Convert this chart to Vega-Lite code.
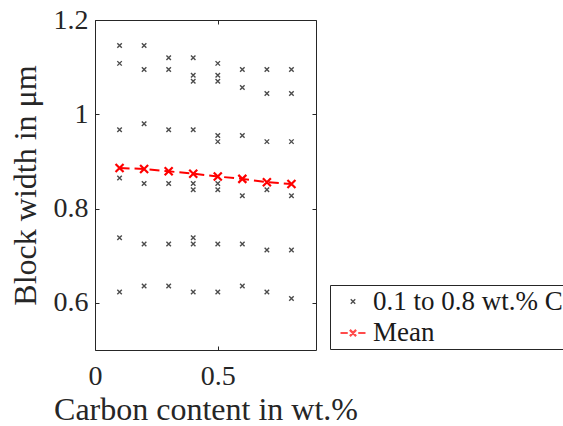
{
  "$schema": "https://vega.github.io/schema/vega-lite/v6.json",
  "width": 221,
  "height": 330,
  "autosize": {"type": "none"},
  "padding": {"left": 95, "top": 20, "right": 247, "bottom": 76},
  "background": "white",
  "config": {
    "view": {"stroke": "#262626", "strokeWidth": 1},
    "font": "Liberation Serif",
    "axis": {
      "grid": false,
      "domain": false,
      "ticks": true,
      "tickColor": "#262626",
      "tickSize": -4,
      "labelFlush": false,
      "labelFont": "Liberation Serif",
      "labelFontSize": 28,
      "labelColor": "#262626",
      "titleFont": "Liberation Serif",
      "titleFontSize": 32,
      "titleFontWeight": "normal",
      "titleColor": "#262626"
    },
    "legend": {
      "orient": "none",
      "legendX": 235,
      "legendY": 265,
      "strokeColor": "#262626",
      "fillColor": "white",
      "padding": 3,
      "symbolOffset": 6,
      "symbolSize": 625,
      "labelOffset": 6,
      "labelFont": "Liberation Serif",
      "labelFontSize": 27,
      "labelColor": "#1a1a1a",
      "labelLimit": 600,
      "rowPadding": 4
    }
  },
  "datasets": {
    "pts": [
      {"c": 0.1, "w": 1.146, "series": "0.1 to 0.8 wt.% C"},
      {"c": 0.1, "w": 1.108, "series": "0.1 to 0.8 wt.% C"},
      {"c": 0.1, "w": 0.967, "series": "0.1 to 0.8 wt.% C"},
      {"c": 0.1, "w": 0.865, "series": "0.1 to 0.8 wt.% C"},
      {"c": 0.1, "w": 0.738, "series": "0.1 to 0.8 wt.% C"},
      {"c": 0.1, "w": 0.623, "series": "0.1 to 0.8 wt.% C"},
      {"c": 0.2, "w": 1.146, "series": "0.1 to 0.8 wt.% C"},
      {"c": 0.2, "w": 1.095, "series": "0.1 to 0.8 wt.% C"},
      {"c": 0.2, "w": 0.98, "series": "0.1 to 0.8 wt.% C"},
      {"c": 0.2, "w": 0.853, "series": "0.1 to 0.8 wt.% C"},
      {"c": 0.2, "w": 0.725, "series": "0.1 to 0.8 wt.% C"},
      {"c": 0.2, "w": 0.636, "series": "0.1 to 0.8 wt.% C"},
      {"c": 0.3, "w": 1.12, "series": "0.1 to 0.8 wt.% C"},
      {"c": 0.3, "w": 1.095, "series": "0.1 to 0.8 wt.% C"},
      {"c": 0.3, "w": 0.967, "series": "0.1 to 0.8 wt.% C"},
      {"c": 0.3, "w": 0.853, "series": "0.1 to 0.8 wt.% C"},
      {"c": 0.3, "w": 0.725, "series": "0.1 to 0.8 wt.% C"},
      {"c": 0.3, "w": 0.636, "series": "0.1 to 0.8 wt.% C"},
      {"c": 0.4, "w": 1.12, "series": "0.1 to 0.8 wt.% C"},
      {"c": 0.4, "w": 1.083, "series": "0.1 to 0.8 wt.% C"},
      {"c": 0.4, "w": 1.07, "series": "0.1 to 0.8 wt.% C"},
      {"c": 0.4, "w": 0.967, "series": "0.1 to 0.8 wt.% C"},
      {"c": 0.4, "w": 0.853, "series": "0.1 to 0.8 wt.% C"},
      {"c": 0.4, "w": 0.84, "series": "0.1 to 0.8 wt.% C"},
      {"c": 0.4, "w": 0.738, "series": "0.1 to 0.8 wt.% C"},
      {"c": 0.4, "w": 0.725, "series": "0.1 to 0.8 wt.% C"},
      {"c": 0.4, "w": 0.623, "series": "0.1 to 0.8 wt.% C"},
      {"c": 0.5, "w": 1.108, "series": "0.1 to 0.8 wt.% C"},
      {"c": 0.5, "w": 1.083, "series": "0.1 to 0.8 wt.% C"},
      {"c": 0.5, "w": 1.07, "series": "0.1 to 0.8 wt.% C"},
      {"c": 0.5, "w": 0.955, "series": "0.1 to 0.8 wt.% C"},
      {"c": 0.5, "w": 0.942, "series": "0.1 to 0.8 wt.% C"},
      {"c": 0.5, "w": 0.853, "series": "0.1 to 0.8 wt.% C"},
      {"c": 0.5, "w": 0.84, "series": "0.1 to 0.8 wt.% C"},
      {"c": 0.5, "w": 0.725, "series": "0.1 to 0.8 wt.% C"},
      {"c": 0.5, "w": 0.623, "series": "0.1 to 0.8 wt.% C"},
      {"c": 0.6, "w": 1.095, "series": "0.1 to 0.8 wt.% C"},
      {"c": 0.6, "w": 1.057, "series": "0.1 to 0.8 wt.% C"},
      {"c": 0.6, "w": 0.955, "series": "0.1 to 0.8 wt.% C"},
      {"c": 0.6, "w": 0.827, "series": "0.1 to 0.8 wt.% C"},
      {"c": 0.6, "w": 0.725, "series": "0.1 to 0.8 wt.% C"},
      {"c": 0.6, "w": 0.636, "series": "0.1 to 0.8 wt.% C"},
      {"c": 0.7, "w": 1.095, "series": "0.1 to 0.8 wt.% C"},
      {"c": 0.7, "w": 1.044, "series": "0.1 to 0.8 wt.% C"},
      {"c": 0.7, "w": 0.942, "series": "0.1 to 0.8 wt.% C"},
      {"c": 0.7, "w": 0.84, "series": "0.1 to 0.8 wt.% C"},
      {"c": 0.7, "w": 0.712, "series": "0.1 to 0.8 wt.% C"},
      {"c": 0.7, "w": 0.623, "series": "0.1 to 0.8 wt.% C"},
      {"c": 0.8, "w": 1.095, "series": "0.1 to 0.8 wt.% C"},
      {"c": 0.8, "w": 1.044, "series": "0.1 to 0.8 wt.% C"},
      {"c": 0.8, "w": 0.942, "series": "0.1 to 0.8 wt.% C"},
      {"c": 0.8, "w": 0.827, "series": "0.1 to 0.8 wt.% C"},
      {"c": 0.8, "w": 0.712, "series": "0.1 to 0.8 wt.% C"},
      {"c": 0.8, "w": 0.609, "series": "0.1 to 0.8 wt.% C"}
    ],
    "mean": [
      {"c": 0.1, "w": 0.886},
      {"c": 0.2, "w": 0.884},
      {"c": 0.3, "w": 0.879},
      {"c": 0.4, "w": 0.874},
      {"c": 0.5, "w": 0.868},
      {"c": 0.6, "w": 0.863},
      {"c": 0.7, "w": 0.856},
      {"c": 0.8, "w": 0.852}
    ]
  },
  "layer": [
    {
      "data": {"name": "pts"},
      "mark": {"type": "point", "filled": false},
      "encoding": {
        "x": {
          "field": "c", "type": "quantitative",
          "scale": {"domain": [0, 0.9], "nice": false, "zero": false},
          "axis": {"values": [0, 0.5], "format": "~g", "title": "Carbon content in wt.%", "labelPadding": 16, "titlePadding": 4}
        },
        "y": {
          "field": "w", "type": "quantitative",
          "scale": {"domain": [0.5, 1.2], "nice": false, "zero": false},
          "axis": {"values": [0.6, 0.8, 1, 1.2], "format": "~g", "title": "Block width in μm", "labelPadding": 11, "titlePadding": 11}
        },
        "shape": {
          "field": "series", "type": "nominal",
          "scale": {
            "domain": ["0.1 to 0.8 wt.% C", "Mean"],
            "range": [
              "M-0.18,-0.18L0.18,0.18M-0.18,0.18L0.18,-0.18",
              "M-1,0H-0.42M-0.25,-0.25L0.25,0.25M-0.25,0.25L0.25,-0.25M0.42,0H1"
            ]
          },
          "legend": {"title": null}
        },
        "color": {
          "field": "series", "type": "nominal",
          "scale": {"domain": ["0.1 to 0.8 wt.% C", "Mean"], "range": ["#000000", "#ff0000"]},
          "legend": {"title": null}
        },
        "strokeWidth": {
          "field": "series", "type": "nominal",
          "scale": {"domain": ["0.1 to 0.8 wt.% C", "Mean"], "range": [1.4, 2.2]},
          "legend": {"title": null}
        },
        "size": {"value": 625}
      }
    },
    {
      "data": {"name": "mean"},
      "mark": {"type": "line", "color": "#ff0000", "strokeWidth": 2, "strokeDash": [10, 5]},
      "encoding": {
        "x": {"field": "c", "type": "quantitative", "axis": null},
        "y": {"field": "w", "type": "quantitative", "axis": null}
      }
    },
    {
      "data": {"name": "mean"},
      "mark": {"type": "point", "filled": false, "color": "#ff0000", "strokeWidth": 2.2, "size": 64, "shape": "M-1,-1L1,1M-1,1L1,-1", "opacity": 1},
      "encoding": {
        "x": {"field": "c", "type": "quantitative", "axis": null},
        "y": {"field": "w", "type": "quantitative", "axis": null}
      }
    },
    {
      "data": {"name": "mean"},
      "mark": {"type": "point", "opacity": 0},
      "encoding": {
        "x": {"field": "c", "type": "quantitative", "axis": {"orient": "top", "values": [0, 0.5], "labels": false, "title": null}},
        "y": {"field": "w", "type": "quantitative", "axis": {"orient": "right", "values": [0.6, 0.8, 1, 1.2], "labels": false, "title": null}}
      }
    }
  ],
  "resolve": {"axis": {"x": "independent", "y": "independent"}}
}
